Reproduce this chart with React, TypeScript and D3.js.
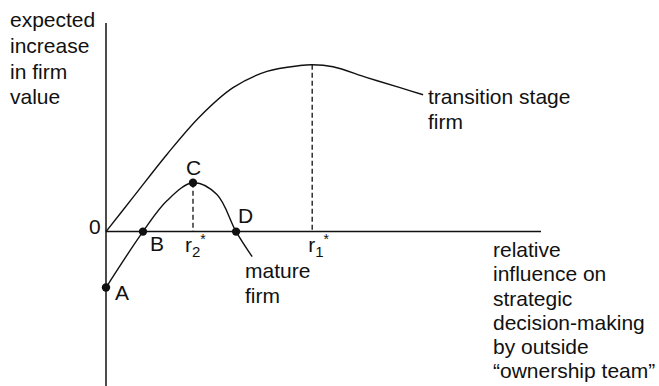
import React from "react";
import * as d3 from "d3";

// Data (abstract units)
const transitionX = [0, 0.62, 1.4, 2.16, 2.92, 3.7, 4.46, 4.74, 5.22, 6.0, 6.76, 7.29];
const transitionY = [0, 0.82, 1.85, 2.76, 3.45, 3.84, 3.98, 4.0, 3.95, 3.69, 3.45, 3.28];
const matureX = [0, 0.85, 1.4, 2.0, 2.55, 2.99, 3.36];
const matureY = [-1.34, 0, 0.74, 1.17, 0.89, 0, -0.6];
const pointNames = ["A", "B", "C", "D"];
const pointX = [0, 0.85, 2.0, 2.99];
const pointY = [-1.34, 0, 1.17, 0];
const r1Star = 4.74;
const r2Star = 2.0;
const yLabel = ["expected", "increase", "in firm", "value"];
const xLabel = ["relative", "influence on", "strategic", "decision-making", "by outside", "\u201cownership team\u201d"];
const transitionLabel = ["transition stage", "firm"];
const matureLabel = ["mature", "firm"];

const W = 659;
const H = 386;
const x = d3.scaleLinear().domain([0, 10]).range([106, 541]);
const y = d3.scaleLinear().domain([-3.7, 5]).range([386, 23]);

export default function App() {
  const line = d3
    .line<[number, number]>()
    .x((d) => x(d[0]))
    .y((d) => y(d[1]))
    .curve(d3.curveCatmullRom.alpha(0.5));
  const tPts = transitionX.map((v, i) => [v, transitionY[i]] as [number, number]);
  const mPts = matureX.map((v, i) => [v, matureY[i]] as [number, number]);
  const font = "'Liberation Sans', Arial, Helvetica, sans-serif";
  const fs = 21;
  const labelOffsets: Record<string, [number, number]> = {
    A: [9, 12],
    B: [7, 19],
    C: [-7, -8],
    D: [2, -9],
  };
  const tPeak = transitionY[transitionX.indexOf(r1Star)];
  const mPeak = matureY[matureX.indexOf(r2Star)];
  return (
    <svg width={W} height={H} style={{ position: "absolute", left: 0, top: 0, background: "#fff" }} fontFamily={font} fontSize={fs} fill="#111">
      {/* axes */}
      <line x1={x(0)} x2={x(0)} y1={y(5)} y2={y(-3.7)} stroke="#111" strokeWidth={1.5} />
      <line x1={x(0)} x2={x(10)} y1={y(0)} y2={y(0)} stroke="#111" strokeWidth={1.5} />
      {/* dashed drops */}
      <line x1={x(r1Star)} x2={x(r1Star)} y1={y(tPeak)} y2={y(0)} stroke="#111" strokeWidth={1.3} strokeDasharray="5,3" />
      <line x1={x(r2Star)} x2={x(r2Star)} y1={y(mPeak)} y2={y(0)} stroke="#111" strokeWidth={1.3} strokeDasharray="5,3" />
      {/* curves */}
      <path d={line(tPts) || ""} fill="none" stroke="#111" strokeWidth={1.4} />
      <path d={line(mPts) || ""} fill="none" stroke="#111" strokeWidth={1.4} />
      {/* points */}
      {pointNames.map((n, i) => (
        <g key={n}>
          <circle cx={x(pointX[i])} cy={y(pointY[i])} r={4.2} fill="#111" />
          <text x={x(pointX[i]) + labelOffsets[n][0]} y={y(pointY[i]) + labelOffsets[n][1]}>{n}</text>
        </g>
      ))}
      <text x={x(0) - 17} y={y(0) + 2}>0</text>
      {/* r labels */}
      <text x={x(r2Star) - 8} y={252}>
        r<tspan fontSize={15} dy={5}>2</tspan><tspan fontSize={14} dy={-13}>*</tspan>
      </text>
      <text x={x(r1Star) - 4} y={252}>
        r<tspan fontSize={15} dy={5}>1</tspan><tspan fontSize={14} dy={-13}>*</tspan>
      </text>
      {/* text labels */}
      {yLabel.map((t, i) => (
        <text key={t} x={10} y={27.3 + i * 25.7}>{t}</text>
      ))}
      {xLabel.map((t, i) => (
        <text key={t} x={493} y={257.3 + i * 24.1}>{t}</text>
      ))}
      {transitionLabel.map((t, i) => (
        <text key={t} x={428} y={104 + i * 25.3}>{t}</text>
      ))}
      {matureLabel.map((t, i) => (
        <text key={t} x={245} y={278 + i * 24.5}>{t}</text>
      ))}
    </svg>
  );
}
